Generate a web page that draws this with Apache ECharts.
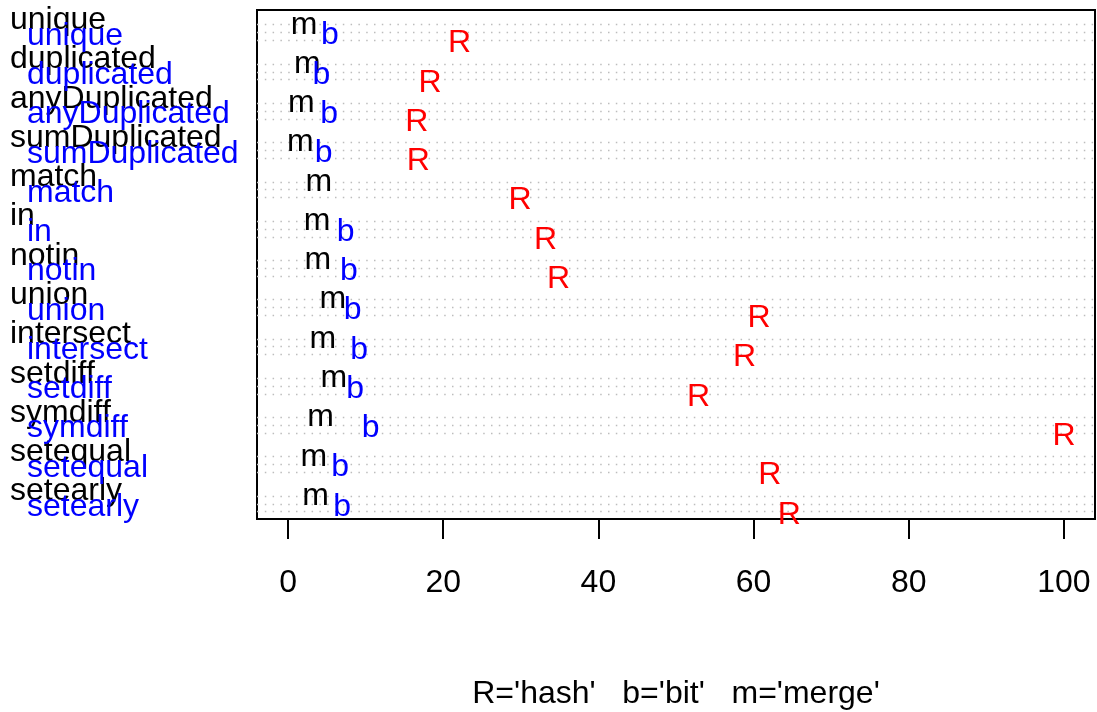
<!DOCTYPE html>
<html>
<head>
<meta charset="utf-8">
<script src="https://cdn.jsdelivr.net/npm/echarts@6/dist/echarts.min.js"></script>
<style>
  html, body { margin: 0; padding: 0; background: #fff; }
  #main { width: 1097px; height: 712px; }
</style>
</head>
<body>
<div id="main"></div>
<script>
// timings per operation
var categories = ['unique', 'duplicated', 'anyDuplicated', 'sumDuplicated', 'match', 'in', 'notin',
  'union', 'intersect', 'setdiff', 'symdiff', 'setequal', 'setearly'];
var hashR = [22.1, 18.3, 16.6, 16.8, 29.9, 33.2, 34.85, 60.7, 58.85, 52.9, 100, 62.1, 64.6];
var bitB = [5.38, 4.3, 5.31, 4.6, null, 7.41, 7.85, 8.34, 9.17, 8.66, 10.65, 6.73, 6.98];
var mergeM = [2.06, 2.48, 1.7, 1.6, 3.96, 3.75, 3.83, 5.76, 4.48, 5.89, 4.2, 3.33, 3.56];
var xTicks = [0, 20, 40, 60, 80, 100];
var legendText = "R='hash'   b='bit'   m='merge'";

// each category takes 5 rows: merge, bit, hash, then a 2 row gap
var ROWS = 5;
var FONT = 'Liberation Sans, Arial, sans-serif';
var FS = 32;

function points(vals, row) {
  var out = [];
  vals.forEach(function (v, i) {
    if (v != null) out.push([v, i * ROWS + row]);
  });
  return out;
}

var dotLines = [];
categories.forEach(function (c, i) {
  for (var r = 0; r < 3; r++) dotLines.push({ yAxis: i * ROWS + r });
});

function nameAt(v, shift) {
  return categories[Math.round((v - shift) / ROWS)] || '';
}

var yMin = -1.87, yMax = 62.93;
var blackShift = -0.57, blueShift = 1.43;

function labelAxis(shift, color, margin) {
  return {
    type: 'value', min: yMin, max: yMax, inverse: true, position: 'left',
    axisLine: { show: false }, axisTick: { show: false }, splitLine: { show: false },
    axisLabel: {
      show: true, align: 'left', margin: margin, color: color, fontSize: FS, fontFamily: FONT,
      customValues: categories.map(function (c, i) { return i * ROWS + shift; }),
      formatter: function (v) { return nameAt(v, shift); }
    }
  };
}

function charSeries(ch, color, data, dy, withLines) {
  var s = {
    type: 'scatter', data: data, symbol: 'circle', symbolSize: 1,
    itemStyle: { color: 'rgba(0,0,0,0)', opacity: 1 }, silent: true,
    label: {
      show: true, position: 'inside', formatter: ch, color: color, opacity: 1,
      fontSize: FS, fontFamily: FONT, offset: [0, dy]
    },
    z: 5
  };
  if (withLines) {
    s.markLine = {
      silent: true, symbol: ['none', 'none'], label: { show: false },
      lineStyle: { type: [1.5, 6.3], color: '#bdbdbd', width: 1.3 },
      emphasis: { disabled: true },
      data: dotLines, z: 1
    };
  }
  return s;
}

var chart = echarts.init(document.getElementById('main'));
chart.setOption({
  animation: false,
  backgroundColor: '#ffffff',
  textStyle: { fontFamily: FONT },
  grid: {
    left: 257, right: 2, top: 10, bottom: 193,
    show: true, borderColor: '#000', borderWidth: 2, backgroundColor: 'transparent',
    outerBoundsMode: 'none', containLabel: false
  },
  xAxis: {
    type: 'value', min: -4, max: 104, position: 'bottom',
    axisLine: { show: false, onZero: false },
    splitLine: { show: false },
    axisTick: { show: true, inside: false, length: 20, customValues: xTicks, lineStyle: { color: '#000', width: 2 } },
    axisLabel: { customValues: xTicks, fontSize: FS, color: '#000', margin: 48, fontFamily: FONT },
    name: legendText, nameLocation: 'middle', nameGap: 159,
    nameTextStyle: { fontSize: FS, color: '#000', fontFamily: FONT }
  },
  yAxis: [
    {
      type: 'value', min: yMin, max: yMax, inverse: true,
      axisLine: { show: false }, axisTick: { show: false },
      axisLabel: { show: false }, splitLine: { show: false }
    },
    labelAxis(blackShift, '#000', 247),
    labelAxis(blueShift, '#0000ff', 230)
  ],
  series: [
    charSeries('m', '#000', points(mergeM, 0), 0, true),
    charSeries('b', '#0000ff', points(bitB, 1), 3, false),
    charSeries('R', '#ff0000', points(hashR, 2), 3, false)
  ]
});
</script>
</body>
</html>
